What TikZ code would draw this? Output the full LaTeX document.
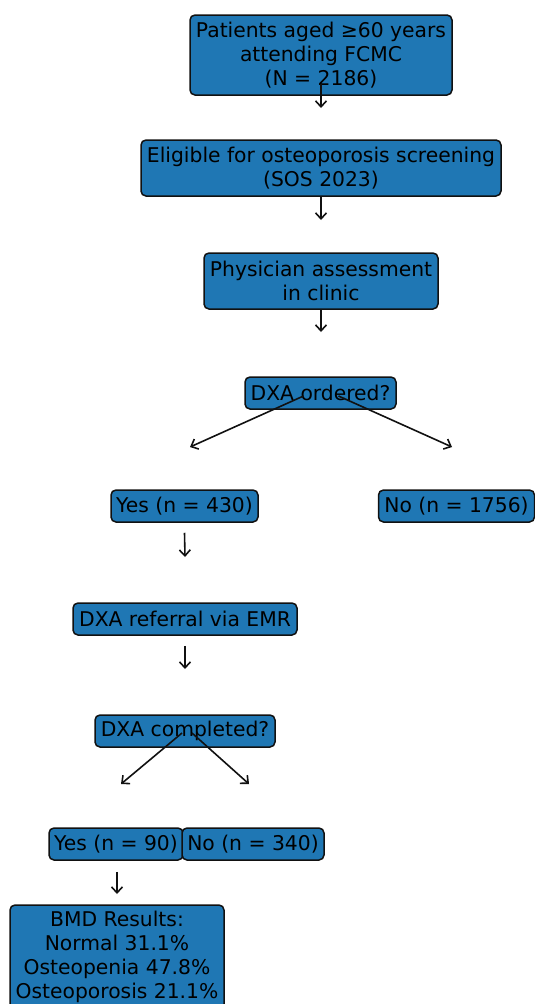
\documentclass[tikz,border=0pt]{standalone}
\usepackage{fontspec}
\setmainfont{DejaVu Sans}
\usetikzlibrary{arrows.meta}
\definecolor{cblue}{HTML}{1F77B4}
\definecolor{edgec}{HTML}{111111}
\begin{document}
\begin{tikzpicture}[x=1pt,y=-1pt,
  box/.style={draw=edgec, line width=1.5pt, fill=cblue, rounded corners=5pt,
    inner sep=0pt, align=center, font=\fontsize{20.3}{24}\selectfont, text=black},
  arr/.style={draw=edgec, line width=1.6pt,
    -{Straight Barb[length=6pt,width=11pt,line width=1.6pt]}}]
\useasboundingbox (0,0) rectangle (535,1004);
\clip (0,0) rectangle (535,1004);
\node[box, minimum width=262pt, minimum height=80pt] (b1) at (321,55)
  {Patients aged ≥60 years\\attending FCMC\\(N = 2186)};
\node[box, minimum width=360pt, minimum height=56pt] (b2) at (321,168)
  {Eligible for osteoporosis screening\\(SOS 2023)};
\node[box, minimum width=234pt, minimum height=56pt] (b3) at (321,281)
  {Physician assessment\\in clinic};
\node[box, minimum width=151pt, minimum height=32pt] (b4) at (320.5,393)
  {DXA ordered?};
\node[box, minimum width=147pt, minimum height=32pt] (y1) at (184.5,506)
  {Yes (n = 430)};
\node[box, minimum width=156pt, minimum height=32pt] (n1) at (456.5,506)
  {No (n = 1756)};
\node[box, minimum width=224pt, minimum height=32pt] (b5) at (185,619)
  {DXA referral via EMR};
\node[box, minimum width=180pt, minimum height=32pt] (b6) at (185,731)
  {DXA completed?};
\node[box, minimum width=134pt, minimum height=32pt] (y2) at (116,844)
  {Yes (n = 90)};
\node[box, minimum width=142pt, minimum height=32pt] (n2) at (253,844)
  {No (n = 340)};
\node[box, minimum width=214pt, minimum height=104pt] (b7) at (117,957)
  {BMD Results:\\Normal 31.1\%\\Osteopenia 47.8\%\\Osteoporosis 21.1\%};
\coordinate (t1) at (321,108);
\coordinate (t2) at (321,220);
\coordinate (t3) at (321,332);
\coordinate (t4l) at (190,447);
\coordinate (t4r) at (452,447);
\coordinate (t5) at (185,557);
\coordinate (t6) at (185,669);
\coordinate (t7l) at (121,784);
\coordinate (t7r) at (249,784);
\coordinate (t8) at (117,894);
\draw[arr] ([yshift=12pt]b1.south) -- (t1);
\draw[arr] (b2.south) -- (t2);
\draw[arr] (b3.south) -- (t3);
\draw[arr] ([xshift=-17pt,yshift=-3pt]b4.center) -- (t4l);
\draw[arr] ([xshift=18pt,yshift=-3pt]b4.center) -- (t4r);
\draw[arr] ([yshift=-10pt]y1.south) -- (t5);
\draw[arr] ([yshift=-10pt]b5.south) -- (t6);
\draw[arr] ([xshift=-3pt,yshift=-2pt]b6.center) -- (t7l);
\draw[arr] ([xshift=7pt,yshift=-2pt]b6.center) -- (t7r);
\draw[arr] ([yshift=-11pt,xshift=1pt]y2.south) -- (t8);
\end{tikzpicture}
\end{document}
